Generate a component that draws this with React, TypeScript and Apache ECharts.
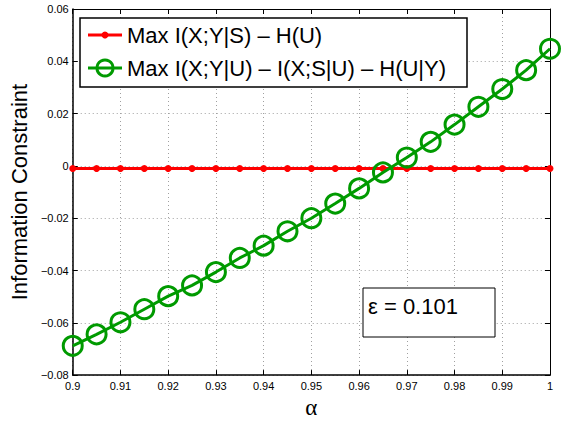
import React, { useEffect, useRef } from "react";
import * as echarts from "echarts";

const alphaValues = [0.9, 0.905, 0.91, 0.915, 0.92, 0.925, 0.93, 0.935, 0.94, 0.945, 0.95, 0.955, 0.96, 0.965, 0.97, 0.975, 0.98, 0.985, 0.99, 0.995, 1.0];
const redValues = [-0.001, -0.001, -0.001, -0.001, -0.001, -0.001, -0.001, -0.001, -0.001, -0.001, -0.001, -0.001, -0.001, -0.001, -0.001, -0.001, -0.001, -0.001, -0.001, -0.001, -0.001];
const greenValues = [-0.0688, -0.0644, -0.0598, -0.0548, -0.0498, -0.0457, -0.0406, -0.0352, -0.0305, -0.025, -0.02, -0.0144, -0.0086, -0.0025, 0.0032, 0.0092, 0.0158, 0.0226, 0.0294, 0.0366, 0.0448];
const seriesNames = ["Max I(X;Y|S) \u2013 H(U)", "Max I(X;Y|U) \u2013 I(X;S|U) \u2013 H(U|Y)"];
const annotation = "\u03b5 = 0.101";
const xName = "\u03b1";
const yName = "Information Constraint";

const FONT = "'Liberation Sans', Arial, Helvetica, sans-serif";
const RED = "#ff0000";
const GREEN = "#009a00";

export default function App() {
  const ref = useRef<HTMLDivElement>(null);
  useEffect(() => {
    if (!ref.current) return;
    const chart = echarts.init(ref.current, undefined, { renderer: "svg" });
    const fmtX = (v: number) => String(Math.round(v * 100) / 100);
    const fmtY = (v: number) => {
      const r = Math.round(v * 100) / 100;
      return r === 0 ? "0" : String(r).replace("-", "\u2212");
    };
    const tickStyle = { show: true, inside: true, length: 5, lineStyle: { color: "#000", width: 1 } };
    const grid = { color: "#a0a0a0", width: 1, type: [1, 3] as number[] };
    chart.setOption({
      animation: false,
      backgroundColor: "#fff",
      grid: { left: 72, right: 20, top: 9, bottom: 37, containLabel: false },
      xAxis: [
        {
          type: "value", min: 0.9, max: 1, interval: 0.01, position: "bottom",
          axisLine: { show: true, onZero: false, lineStyle: { color: "#000", width: 1.5 } },
          axisTick: tickStyle,
          axisLabel: { formatter: fmtX, fontSize: 11, fontFamily: FONT, color: "#000", margin: 5 },
          splitLine: { show: true, lineStyle: grid },
          name: xName, nameLocation: "middle", nameGap: 9,
          nameTextStyle: { fontSize: 23, fontFamily: "'Liberation Serif', 'Times New Roman', serif", color: "#000", verticalAlign: "top" },
        },
        {
          type: "value", min: 0.9, max: 1, interval: 0.01, position: "top",
          axisLine: { show: true, onZero: false, lineStyle: { color: "#000", width: 1 } },
          axisTick: tickStyle, axisLabel: { show: false }, splitLine: { show: false },
        },
      ],
      yAxis: [
        {
          type: "value", min: -0.08, max: 0.06, interval: 0.02, position: "left",
          axisLine: { show: true, onZero: false, lineStyle: { color: "#000", width: 1.5 } },
          axisTick: tickStyle,
          axisLabel: { formatter: fmtY, fontSize: 11, fontFamily: FONT, color: "#000", margin: 4 },
          splitLine: { show: true, lineStyle: grid },
          name: yName, nameLocation: "middle", nameGap: 36, nameRotate: 90,
          nameTextStyle: { fontSize: 22, fontFamily: FONT, color: "#000" },
        },
        {
          type: "value", min: -0.08, max: 0.06, interval: 0.02, position: "right",
          axisLine: { show: true, onZero: false, lineStyle: { color: "#000", width: 1 } },
          axisTick: tickStyle, axisLabel: { show: false }, splitLine: { show: false },
        },
      ],
      series: [
        {
          name: seriesNames[0], type: "line",
          data: alphaValues.map((a, i) => [a, redValues[i]]),
          symbol: "circle", symbolSize: 7,
          lineStyle: { color: RED, width: 3 },
          itemStyle: { color: RED },
          z: 2,
        },
        {
          name: seriesNames[1], type: "line",
          data: alphaValues.map((a, i) => [a, greenValues[i]]),
          symbol: "circle", symbolSize: 19,
          lineStyle: { color: GREEN, width: 3 },
          itemStyle: { color: "rgba(0,0,0,0)", borderColor: GREEN, borderWidth: 3 },
          z: 3,
        },
      ],
      graphic: [
        { type: "rect", z: 100, shape: { x: 80, y: 18, width: 387, height: 69 }, style: { fill: "#fff", stroke: "#000", lineWidth: 1.5 } },
        { type: "line", z: 101, shape: { x1: 88, y1: 35, x2: 122, y2: 35 }, style: { stroke: RED, lineWidth: 3 } },
        { type: "circle", z: 102, shape: { cx: 105, cy: 35, r: 3.5 }, style: { fill: RED } },
        { type: "text", z: 101, x: 127, y: 35, style: { text: seriesNames[0], fontSize: 22, fontFamily: FONT, fill: "#000", verticalAlign: "middle" } },
        { type: "line", z: 101, shape: { x1: 88, y1: 68, x2: 122, y2: 68 }, style: { stroke: GREEN, lineWidth: 3 } },
        { type: "circle", z: 102, shape: { cx: 105, cy: 68, r: 8 }, style: { fill: "none", stroke: GREEN, lineWidth: 3 } },
        { type: "text", z: 101, x: 127, y: 68, style: { text: seriesNames[1], fontSize: 22, fontFamily: FONT, fill: "#000", verticalAlign: "middle" } },
        { type: "rect", z: 100, shape: { x: 363, y: 288, width: 132, height: 49 }, style: { fill: "#fff", stroke: "#000", lineWidth: 1 } },
        { type: "text", z: 101, x: 368, y: 306, style: { text: annotation, fontSize: 22, fontFamily: FONT, fill: "#000", verticalAlign: "middle" } },
      ],
    });
    return () => chart.dispose();
  }, []);
  return <div ref={ref} style={{ position: "absolute", left: 0, top: 0, width: 570, height: 424 }} />;
}
